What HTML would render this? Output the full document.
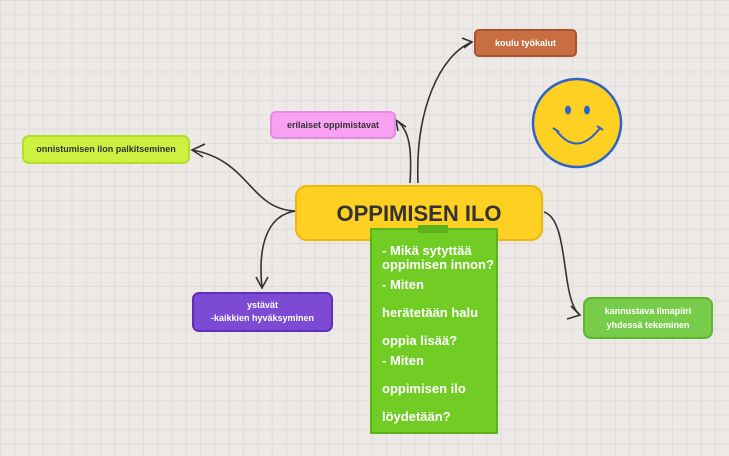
<!DOCTYPE html>
<html><head><meta charset="utf-8"><style>
body{margin:0;width:729px;height:456px;overflow:hidden;background-color:#ece9e6;
background-image:linear-gradient(#e0dcd9 1px,transparent 1px),linear-gradient(90deg,#e0dcd9 1px,transparent 1px);
background-size:14.3px 14.3px;font-family:"Liberation Sans",sans-serif;position:relative}
.n{position:absolute;box-sizing:border-box;display:flex;align-items:center;justify-content:center;text-align:center;font-size:10px;font-weight:bold;line-height:13px}
</style></head><body>
<svg width="729" height="456" style="position:absolute;left:0;top:0" fill="none" stroke="#333" stroke-width="1.6">
<path d="M418 183 C415 110 440 55 472 42"/><path d="M462 38 L472 42 L464 48"/>
<path d="M410 183 C412 150 410 130 396 120"/><path d="M398 131 L396 120 L406 127"/>
<path d="M296 211 C250 210 250 160 192 150"/><path d="M205 144 L192 150 L203 157"/>
<path d="M296 211 C265 215 258 250 262 288"/><path d="M256 277 L262 288 L268 277"/>
<path d="M544 212 C570 220 560 300 580 315"/><path d="M567 319 L580 315 L571 306"/>
</svg>
<div class="n" style="left:474px;top:29px;width:103px;height:28px;background:#c96e43;border:2px solid #a9542e;border-radius:5px;color:#fff;font-size:9px">koulu työkalut</div>
<div class="n" style="left:270px;top:111px;width:126px;height:28px;background:#f8a1f3;border:2px solid #e78ae3;border-radius:6px;color:#333;font-size:9px">erilaiset oppimistavat</div>
<div class="n" style="left:22px;top:135px;width:168px;height:29px;background:#cef040;border:2px solid #b6dc2a;border-radius:7px;color:#333;font-size:9px">onnistumisen ilon palkitseminen</div>
<div class="n" style="left:295px;top:185px;width:248px;height:56px;background:#fdd022;border:2px solid #eab710;border-radius:12px;color:#333;font-size:22px">OPPIMISEN ILO</div>
<div class="n" style="left:192px;top:292px;width:141px;height:40px;background:#7d4ad4;border:2px solid #5e2fb5;border-radius:7px;color:#fff;font-size:9px;line-height:13px">ystävät<br>-kaikkien hyväksyminen</div>
<div class="n" style="left:583px;top:297px;width:130px;height:42px;background:#77cc4a;border:2px solid #5db534;border-radius:8px;color:#fff;font-size:9px;line-height:14px">kannustava ilmapiiri<br>yhdessä tekeminen</div>
<div style="position:absolute;left:370px;top:228px;width:128px;height:206px;background:#71cc24;border:2px solid #5bb21a;box-sizing:border-box;color:#fff;font-weight:bold;font-size:13px;padding:14px 0 0 10px;line-height:14px">
<div>- Mikä sytyttää<br>oppimisen innon?</div>
<div style="margin-top:6px">- Miten</div>
<div style="margin-top:14px">herätetään halu</div>
<div style="margin-top:14px">oppia lisää?</div>
<div style="margin-top:6px">- Miten</div>
<div style="margin-top:14px">oppimisen ilo</div>
<div style="margin-top:14px">löydetään?</div>
</div>
<div style="position:absolute;left:418px;top:225px;width:30px;height:8px;background:#5bb21a"></div>
<svg width="729" height="456" style="position:absolute;left:0;top:0">
<ellipse cx="577" cy="123" rx="44" ry="44" fill="#fdd022" stroke="#2e63c9" stroke-width="2.5"/>
<ellipse cx="568" cy="110" rx="3" ry="4.5" fill="#2e63c9"/><ellipse cx="587" cy="110" rx="3" ry="4.5" fill="#2e63c9"/>
<path d="M556 130 Q577 158 600 128" fill="none" stroke="#2e63c9" stroke-width="2"/>
<path d="M553 128 L559 132 M597 126 L603 130" stroke="#2e63c9" stroke-width="2"/>
</svg>
</body></html>
